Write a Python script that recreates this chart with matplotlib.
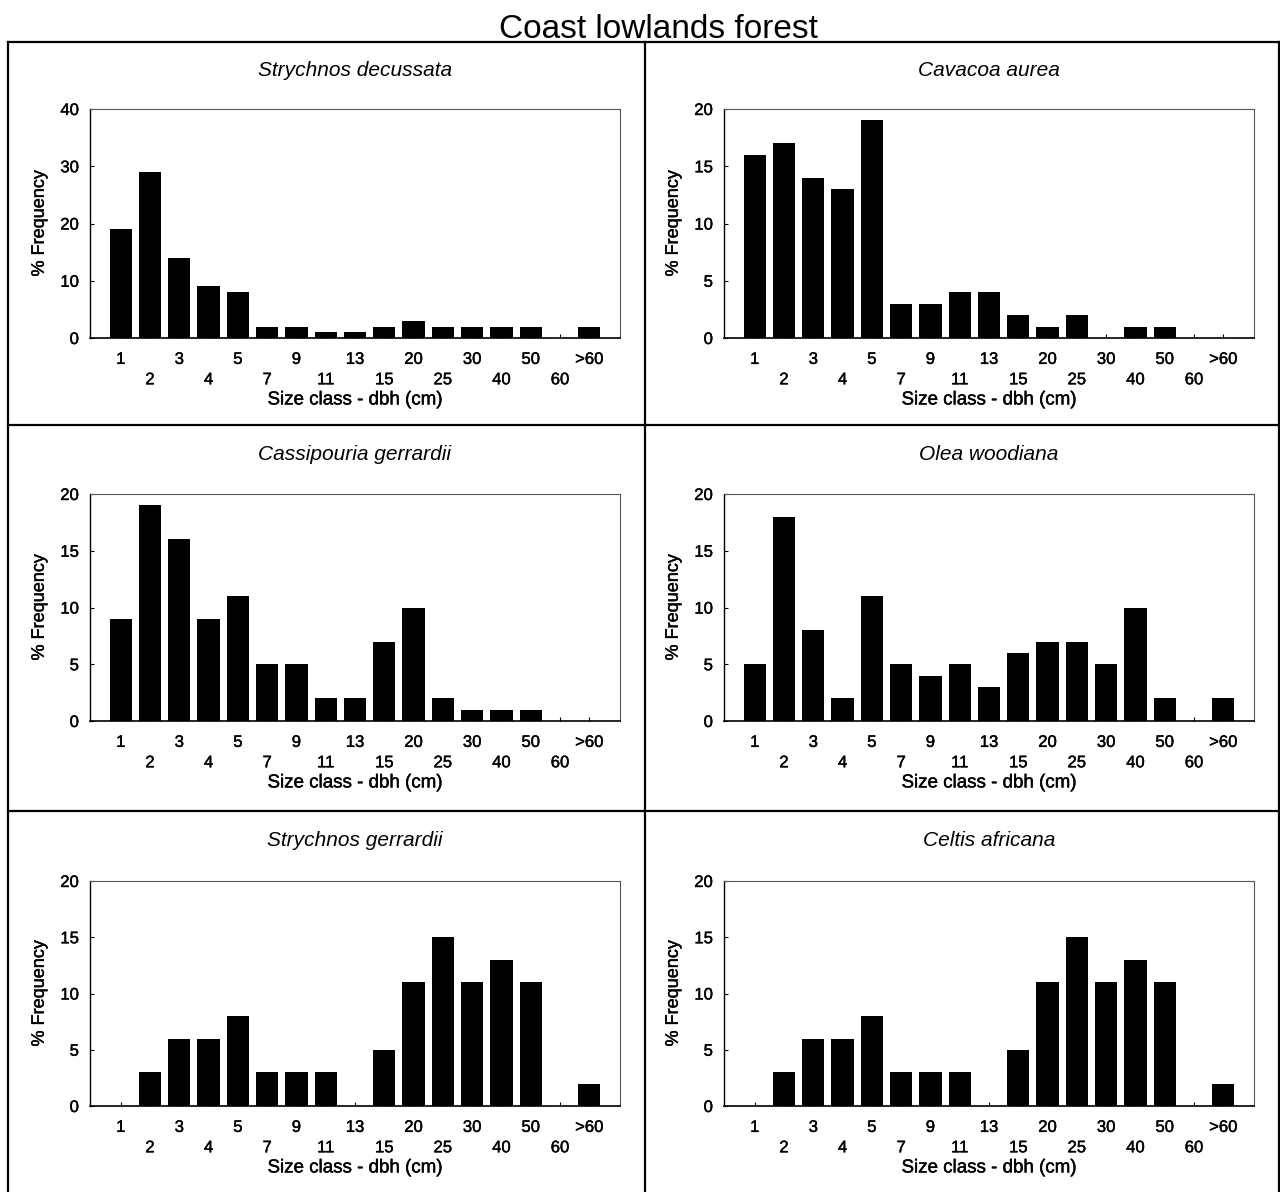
import matplotlib
matplotlib.use("Agg")
import matplotlib.pyplot as plt
import matplotlib.patheffects as pe
from matplotlib.lines import Line2D

plt.rcParams['font.family'] = ['Liberation Sans', 'DejaVu Sans']

# size classes (dbh, cm)
size_classes = ['1', '2', '3', '4', '5', '7', '9', '11', '13', '15',
                '20', '25', '30', '40', '50', '60', '>60']

# % frequency per size class
strychnos_decussata = [19, 29, 14, 9, 8, 2, 2, 1, 1, 2, 3, 2, 2, 2, 2, 0, 2]
cavacoa_aurea = [16, 17, 14, 13, 19, 3, 3, 4, 4, 2, 1, 2, 0, 1, 1, 0, 0]
cassipouria_gerrardii = [9, 19, 16, 9, 11, 5, 5, 2, 2, 7, 10, 2, 1, 1, 1, 0, 0]
olea_woodiana = [5, 18, 8, 2, 11, 5, 4, 5, 3, 6, 7, 7, 5, 10, 2, 0, 2]
strychnos_gerrardii = [0, 3, 6, 6, 8, 3, 3, 3, 0, 5, 11, 15, 11, 13, 11, 0, 2]
celtis_africana = [0, 3, 6, 6, 8, 3, 3, 3, 0, 5, 11, 15, 11, 13, 11, 0, 2]

species = ['Strychnos decussata', 'Cavacoa aurea', 'Cassipouria gerrardii',
           'Olea woodiana', 'Strychnos gerrardii', 'Celtis africana']
values = [strychnos_decussata, cavacoa_aurea, cassipouria_gerrardii,
          olea_woodiana, strychnos_gerrardii, celtis_africana]
y_max = [40, 20, 20, 20, 20, 20]
y_step = [10, 5, 5, 5, 5, 5]

W, H = 1280, 1192
fig = plt.figure(figsize=(W / 100, H / 100), dpi=100)

# a touch heavier text, like the scanned original
ink = [pe.withStroke(linewidth=0.3, foreground='black')]

# axes boxes in pixels: (top, bottom) per row, left per column
col_left = [90, 724]
ax_w = 530
rows = [(109, 338), (494, 721), (881, 1106)]
box_rows = [42, 425, 811]

# panel border lines
lw_box = 1.6
def fline(x0, y0, x1, y1):
    fig.add_artist(Line2D([x0 / W, x1 / W], [1 - y0 / H, 1 - y1 / H],
                          color='black', lw=lw_box, transform=fig.transFigure))

for yb in box_rows:
    fline(8, yb, 1279, yb)
fline(8, box_rows[0], 8, H)
fline(645, box_rows[0], 645, H)
fline(1279, box_rows[0], 1279, H)

fig.text(658 / W, 1 - 38 / H, 'Coast lowlands forest', ha='center', va='baseline',
         fontsize=24)

x = list(range(len(size_classes)))
tick_labels = [lab if i % 2 == 0 else '\n' + lab for i, lab in enumerate(size_classes)]

for k, (name, vals) in enumerate(zip(species, values)):
    r, c = divmod(k, 2)
    top, bot = rows[r]
    left = col_left[c]
    ax = fig.add_axes([left / W, 1 - bot / H, ax_w / W, (bot - top) / H])
    ax.bar(x, vals, width=0.76, color='black')
    ax.set_xlim(-1.05, 17.05)
    ax.set_ylim(0, y_max[k])
    ax.set_yticks(range(0, y_max[k] + 1, y_step[k]))
    ax.set_xticks(x)
    ax.set_xticklabels(tick_labels, fontsize=12, linespacing=1.45)
    ax.tick_params(axis='x', direction='in', length=3, width=0.8, pad=10)
    ax.tick_params(axis='y', direction='in', length=3, width=0.8, pad=8,
                   labelsize=12)
    for side in ['top', 'right']:
        ax.spines[side].set_color('#555555')
        ax.spines[side].set_linewidth(0.8)
    ax.spines['left'].set_linewidth(1.0)
    ax.spines['bottom'].set_linewidth(1.2)
    ax.set_xlabel('Size class - dbh (cm)', fontsize=13.5, labelpad=3)
    ax.set_ylabel('% Frequency', fontsize=13, labelpad=9)
    for t in ax.get_xticklabels() + ax.get_yticklabels() + [ax.xaxis.label, ax.yaxis.label]:
        t.set_path_effects(ink)
    fig.text((left + ax_w / 2) / W, 1 - (box_rows[r] + 29) / H, name,
             ha='center', va='center', fontsize=15, style='italic')

fig.savefig('out.png', dpi=100)
